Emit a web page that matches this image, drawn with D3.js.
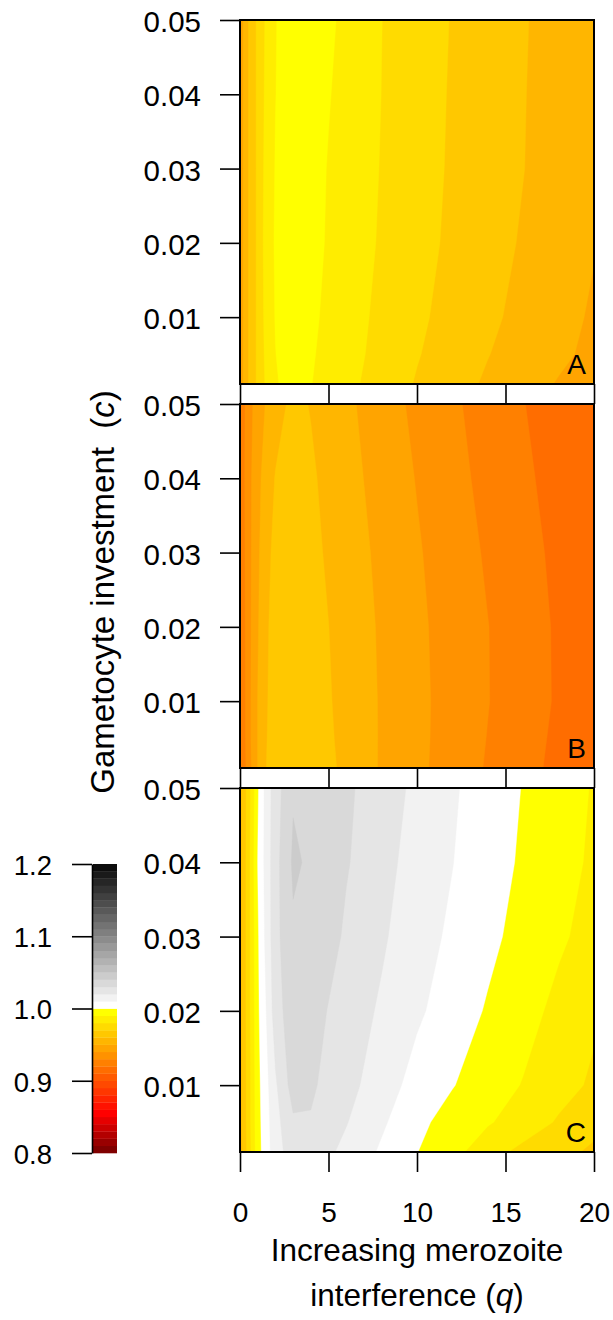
<!DOCTYPE html>
<html>
<head>
<meta charset="utf-8">
<script src="https://cdn.jsdelivr.net/npm/d3@7"></script>
<style>
  body { margin: 0; background: #fff; }
  svg { display: block; }
  svg text { font-family: "Liberation Sans", Arial, Helvetica, sans-serif; fill: #000; }
</style>
</head>
<body>
<script>
// grid the surfaces were read on (q across, c up)
const qVals = [0, 0.5, 1, 1.5, 2, 3, 4, 5, 6, 8, 10, 12, 14, 16, 18, 20];
const cVals = [0.001, 0.005, 0.01, 0.02, 0.03, 0.04, 0.05];

// one row per c value, one column per q value
const gridA = [
  [0.944, 0.961, 0.972, 0.982, 0.9888, 0.995, 0.9903, 0.9865, 0.9827, 0.9757, 0.9692, 0.9638, 0.9586, 0.954, 0.9493, 0.9448],
  [0.944, 0.961, 0.972, 0.983, 0.9898, 0.9955, 0.991, 0.9873, 0.9836, 0.9769, 0.9706, 0.9654, 0.9603, 0.956, 0.9519, 0.9477],
  [0.944, 0.961, 0.972, 0.984, 0.9905, 0.9955, 0.9918, 0.9881, 0.9844, 0.9776, 0.9718, 0.9667, 0.9619, 0.9574, 0.9531, 0.9488],
  [0.944, 0.961, 0.972, 0.985, 0.991, 0.996, 0.993, 0.9891, 0.9856, 0.9789, 0.9733, 0.9682, 0.9636, 0.9591, 0.9545, 0.9505],
  [0.944, 0.961, 0.972, 0.984, 0.9905, 0.996, 0.9935, 0.9895, 0.9861, 0.9795, 0.974, 0.9688, 0.9644, 0.9602, 0.9555, 0.951],
  [0.944, 0.961, 0.972, 0.983, 0.9898, 0.996, 0.994, 0.9905, 0.9871, 0.9799, 0.9744, 0.9691, 0.9648, 0.9604, 0.956, 0.9515],
  [0.944, 0.961, 0.972, 0.982, 0.9895, 0.996, 0.9945, 0.9915, 0.988, 0.9801, 0.9747, 0.9695, 0.965, 0.9607, 0.9563, 0.952]
];
const gridB = [
  [0.918, 0.936, 0.9502, 0.9601, 0.963, 0.966, 0.965, 0.9618, 0.9579, 0.949, 0.9422, 0.9356, 0.9291, 0.9232, 0.9175, 0.912],
  [0.919, 0.937, 0.9502, 0.9598, 0.963, 0.966, 0.9648, 0.9613, 0.9573, 0.9491, 0.9424, 0.9359, 0.9297, 0.924, 0.918, 0.9115],
  [0.919, 0.937, 0.9502, 0.9595, 0.963, 0.966, 0.9645, 0.9608, 0.9568, 0.9491, 0.9424, 0.9362, 0.9303, 0.9247, 0.9188, 0.911],
  [0.92, 0.937, 0.949, 0.959, 0.963, 0.966, 0.964, 0.9601, 0.9562, 0.9487, 0.942, 0.9359, 0.9302, 0.9245, 0.9187, 0.911],
  [0.921, 0.937, 0.948, 0.958, 0.962, 0.9655, 0.9625, 0.9588, 0.955, 0.9477, 0.941, 0.9348, 0.9288, 0.9235, 0.9177, 0.911],
  [0.922, 0.937, 0.947, 0.955, 0.9605, 0.9645, 0.9615, 0.9573, 0.9535, 0.9463, 0.9395, 0.9331, 0.9272, 0.9219, 0.9163, 0.9105],
  [0.922, 0.936, 0.945, 0.951, 0.956, 0.9625, 0.9595, 0.9558, 0.9521, 0.9447, 0.9377, 0.9316, 0.9259, 0.9203, 0.9156, 0.911]
];
const gridC = [
  [0.955, 0.975, 0.996, 1.006, 1.0155, 1.0255, 1.0255, 1.0215, 1.0175, 1.0085, 1.0002, 0.9935, 0.9835, 0.9775, 0.9725, 0.9685],
  [0.956, 0.976, 0.9965, 1.0065, 1.0165, 1.0285, 1.029, 1.0245, 1.0205, 1.0115, 1.0025, 0.996, 0.991, 0.985, 0.979, 0.9725],
  [0.956, 0.976, 0.997, 1.0075, 1.0185, 1.0345, 1.032, 1.0265, 1.0235, 1.0145, 1.0065, 1.0005, 0.9945, 0.9895, 0.9835, 0.9785],
  [0.956, 0.977, 0.998, 1.0105, 1.0255, 1.036, 1.0345, 1.0295, 1.0258, 1.0185, 1.0115, 1.0055, 0.999, 0.9935, 0.9875, 0.9815],
  [0.956, 0.977, 0.9985, 1.0135, 1.027, 1.0385, 1.037, 1.0335, 1.0285, 1.0215, 1.0135, 1.0085, 1.0025, 0.9965, 0.9915, 0.9866],
  [0.956, 0.977, 1.0002, 1.0145, 1.0265, 1.0415, 1.0385, 1.0345, 1.0308, 1.0235, 1.0158, 1.0102, 1.0044, 0.9986, 0.9934, 0.9885],
  [0.956, 0.976, 0.9985, 1.0145, 1.0255, 1.039, 1.037, 1.034, 1.0315, 1.0255, 1.0175, 1.0112, 1.0053, 0.9996, 0.9942, 0.9893]
];

const panelNames = ['A', 'B', 'C'];
const xTicks = [0, 5, 10, 15, 20];
const yTicks = [0.01, 0.02, 0.03, 0.04, 0.05];
const barTicks = [0.8, 0.9, 1.0, 1.1, 1.2];
const levels = d3.range(40).map(i => +(0.8 + i * 0.01).toFixed(2));

const WIDTH = 613, HEIGHT = 1320;
const LEFT = 240, RIGHT = 594;
const TOPS = [20, 404, 788];
const PANEL_H = 364;

const heat = d3.scaleLinear().domain([0.80, 0.85, 0.99]).range(['#800000', '#ff0000', '#ffff00']).clamp(true);
const grey = d3.scaleLinear().domain([1.0, 1.2]).range([255, 0]).clamp(true);
const bandColor = v => v >= 1 ? d3.rgb(grey(v), grey(v), grey(v)).formatHex() : heat(v);

const svg = d3.select('body').append('svg')
  .attr('width', WIDTH)
  .attr('height', HEIGHT);

const x = d3.scaleLinear().domain([0, 20]).range([LEFT, RIGHT]);

// grid index -> data value (d3.contours puts sample k at k + 0.5)
const nx = qVals.length, ny = cVals.length;
const uToQ = d3.scaleLinear()
  .domain([0, ...qVals.map((_, i) => i + 0.5), nx])
  .range([qVals[0], ...qVals, qVals[nx - 1]]);
const vToC = d3.scaleLinear()
  .domain([0, ...cVals.map((_, i) => i + 0.5), ny])
  .range([cVals[0], ...cVals, cVals[ny - 1]]);

const contourGen = d3.contours().size([nx, ny]).thresholds(levels);

[gridA, gridB, gridC].forEach((grid, p) => {
  const top = TOPS[p];
  const y = d3.scaleLinear().domain([0.001, 0.05]).range([top + PANEL_H, top]);
  const g = svg.append('g');

  const proj = d3.geoTransform({
    point(u, v) { this.stream.point(x(uToQ(u)), y(vToC(v))); }
  });
  const path = d3.geoPath(proj);

  g.selectAll('path.band')
    .data(contourGen(grid.flat()))
    .join('path')
    .attr('class', 'band')
    .attr('d', path)
    .attr('fill-rule', 'evenodd')
    .attr('fill', d => bandColor(d.value))
    .attr('stroke', d => bandColor(d.value))
    .attr('stroke-width', 0.4);

  const xAxis = g.append('g')
    .attr('transform', `translate(0,${top + PANEL_H})`)
    .call(d3.axisBottom(x).tickValues(xTicks).tickSize(20).tickSizeOuter(0).tickPadding(30)
      .tickFormat(p === 2 ? d3.format('d') : () => ''));
  xAxis.select('.domain').remove();

  const yAxis = g.append('g')
    .attr('transform', `translate(${LEFT},0)`)
    .call(d3.axisLeft(y).tickValues(yTicks).tickSize(20).tickPadding(19).tickFormat(d3.format('.2f')));
  yAxis.select('.domain').remove();

  [xAxis, yAxis].forEach(a => {
    a.attr('font-family', null).attr('font-size', null);
    a.selectAll('line').attr('stroke', '#000').attr('stroke-width', 1.6);
  });
  xAxis.selectAll('text').style('font-size', '28px');
  yAxis.selectAll('text').style('font-size', '29.5px').attr('dy', '0.39em');

  g.append('rect')
    .attr('x', LEFT).attr('y', top)
    .attr('width', RIGHT - LEFT).attr('height', PANEL_H)
    .attr('fill', 'none').attr('stroke', '#000').attr('stroke-width', 2);

  g.append('text')
    .attr('x', RIGHT - 8).attr('y', top + PANEL_H - 10)
    .attr('text-anchor', 'end')
    .style('font-size', '28px')
    .text(panelNames[p]);
});

// colour key
const cb = d3.scaleLinear().domain([0.8, 1.2]).range([1153, 864]);
const key = svg.append('g');
key.selectAll('rect')
  .data(levels)
  .join('rect')
  .attr('x', 93).attr('width', 24)
  .attr('y', d => cb(d + 0.01))
  .attr('height', d => cb(d) - cb(d + 0.01) + 0.3)
  .attr('fill', d => bandColor(d));

const keyAxis = key.append('g')
  .attr('transform', 'translate(92,0)')
  .call(d3.axisLeft(cb).tickValues(barTicks).tickSize(20).tickSizeOuter(0).tickPadding(20).tickFormat(d3.format('.1f')));
keyAxis.attr('font-family', null).attr('font-size', null);
keyAxis.selectAll('line, path').attr('stroke', '#000').attr('stroke-width', 1.6);
keyAxis.selectAll('text').style('font-size', '27.5px').attr('dy', '0.38em');

// axis titles
const yTitle = svg.append('text')
  .attr('transform', 'translate(114,592) rotate(-90)')
  .attr('text-anchor', 'middle')
  .style('font-size', '33px');
yTitle.append('tspan').text('Gametocyte investment\u00a0 (');
yTitle.append('tspan').style('font-style', 'italic').text('c');
yTitle.append('tspan').text(')');

svg.append('text')
  .attr('x', 417).attr('y', 1261)
  .attr('text-anchor', 'middle')
  .style('font-size', '31.5px')
  .text('Increasing merozoite');

const xTitle2 = svg.append('text')
  .attr('x', 417).attr('y', 1306)
  .attr('text-anchor', 'middle')
  .style('font-size', '31.5px');
xTitle2.append('tspan').text('interference (');
xTitle2.append('tspan').style('font-style', 'italic').text('q');
xTitle2.append('tspan').text(')');
</script>
</body>
</html>
